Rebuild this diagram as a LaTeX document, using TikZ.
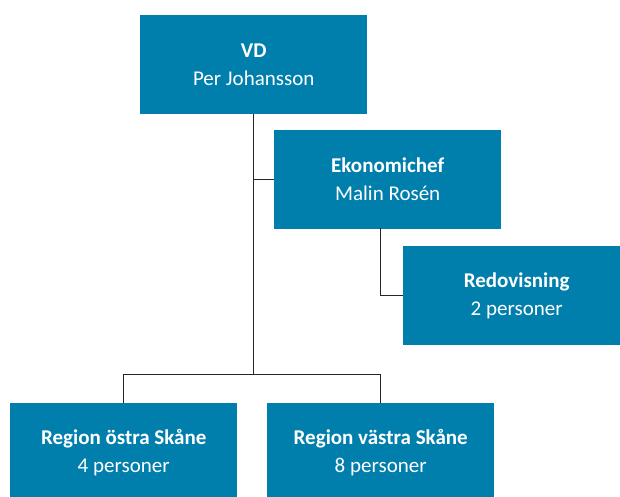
\documentclass[tikz,border=0pt]{standalone}
\usepackage{fontspec}
\setmainfont{Carlito}
\definecolor{boxblue}{RGB}{0,127,173}
\begin{document}
\begin{tikzpicture}[x=1pt,y=-1pt,
  box/.style={fill=boxblue, text=white, anchor=north west, minimum width=227pt, minimum height=99pt,
    inner sep=0pt, align=center, font=\fontsize{21}{28}\selectfont},
  link/.style={draw=black!85, line width=1pt}]
\useasboundingbox (0,0) rectangle (620,496);
\node[box] (vd) at (140,15) {\textbf{VD}\\Per Johansson};
\node[box] (eko) at (274,130) {\textbf{Ekonomichef}\\Malin Rosén};
\node[box] (red) at (403,246) {\textbf{Redovisning}\\2 personer};
\node[box] (ost) at (10,403) {\textbf{Region östra Skåne}\\4 personer};
\node[box] (vast) at (267,403) {\textbf{Region västra Skåne}\\8 personer};
\coordinate (trunk) at (vd.south |- 0,374);
\coordinate (ekodrop) at (380,228);
\coordinate (ekoturn) at (380,295);
\draw[link] (vd.south) -- (trunk);
\draw[link] (vd.south |- eko.west) -- (eko.west);
\draw[link] (ekodrop) -- (ekoturn) -- (red.west |- ekoturn);
\draw[link] (ost.north) -- (ost.north |- trunk) -- (vast.north |- trunk) -- (vast.north);
\end{tikzpicture}
\end{document}
